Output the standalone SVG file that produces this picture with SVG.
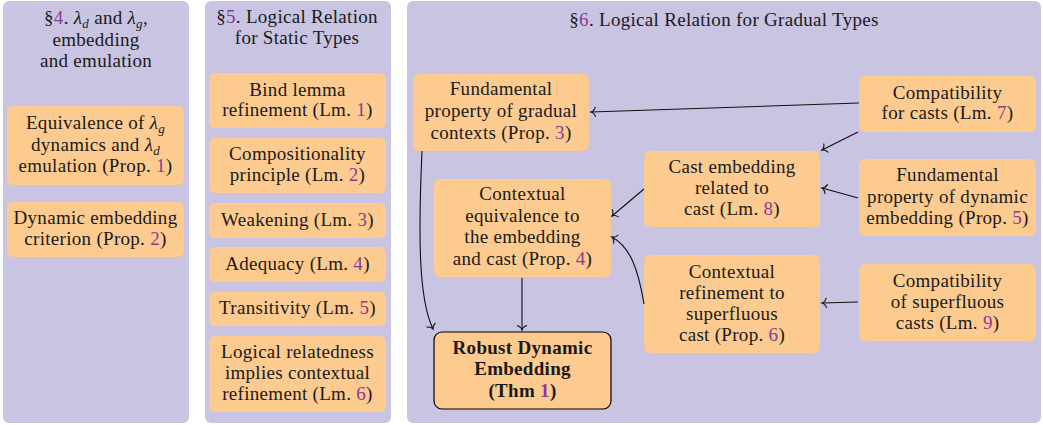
<svg xmlns="http://www.w3.org/2000/svg" width="1043" height="425" viewBox="0 0 1043 425">
  <style>
    .panel { fill: #c8c4e2; }
    .node { fill: #fdcb8f; }
    .main { fill: #fdcb8f; stroke: #000; stroke-width: 1.2; }
    text { font-family: "Liberation Serif", "Times New Roman", serif; font-size: 19px; letter-spacing: 0.3px; fill: #1a1a1a; text-anchor: middle; }
    .b { font-weight: bold; }
    .n { fill: #8a3a94; }
    .m { font-style: italic; }
    .edge { fill: none; stroke: #111; stroke-width: 1.1; }
  </style>
  <defs>
    <marker id="to" viewBox="-6 -6 8 12" markerWidth="8" markerHeight="12" refX="0" refY="0" orient="auto" markerUnits="userSpaceOnUse">
      <path d="M-4.5,-5 C-3.5,-2 -1.5,-0.4 0,0 C-1.5,0.4 -3.5,2 -4.5,5" fill="none" stroke="#111" stroke-width="1.1"/>
    </marker>
  </defs>

  <!-- section panels -->
  <g id="panel-s4">
    <rect class="panel" x="3" y="1" width="186" height="422" rx="6"/>
    <text x="96" y="24">§<tspan class="n">4</tspan>. <tspan class="m">λ</tspan><tspan class="m" font-size="13" dy="4">d</tspan><tspan dy="-4"> and </tspan><tspan class="m">λ</tspan><tspan class="m" font-size="13" dy="4">g</tspan><tspan dy="-4">,</tspan></text>
    <text x="96" y="46">embedding</text>
    <text x="96" y="67">and emulation</text>
  </g>
  <g id="panel-s5">
    <rect class="panel" x="205" y="1" width="186" height="422" rx="6"/>
    <text x="297" y="23">§<tspan class="n">5</tspan>. Logical Relation</text>
    <text x="297" y="44">for Static Types</text>
  </g>
  <g id="panel-s6">
    <rect class="panel" x="407" y="1" width="634" height="422" rx="6"/>
    <text x="724" y="26">§<tspan class="n">6</tspan>. Logical Relation for Gradual Types</text>
  </g>

  <!-- §4 nodes -->
  <g id="prop1">
    <rect class="node" x="7" y="106" width="177" height="79" rx="6"/>
    <text x="95.5" y="129">Equivalence of <tspan class="m">λ</tspan><tspan class="m" font-size="13" dy="4">g</tspan></text>
    <text x="95.5" y="150.5">dynamics and <tspan class="m">λ</tspan><tspan class="m" font-size="13" dy="4">d</tspan></text>
    <text x="95.5" y="172">emulation (Prop. <tspan class="n">1</tspan>)</text>
  </g>
  <g id="prop2">
    <rect class="node" x="7" y="202" width="177" height="55" rx="6"/>
    <text x="95.5" y="224">Dynamic embedding</text>
    <text x="95.5" y="245">criterion (Prop. <tspan class="n">2</tspan>)</text>
  </g>

  <!-- §5 nodes -->
  <g id="lm1">
    <rect class="node" x="209" y="73" width="177" height="55" rx="6"/>
    <text x="297.5" y="96">Bind lemma</text>
    <text x="297.5" y="116">refinement (Lm. <tspan class="n">1</tspan>)</text>
  </g>
  <g id="lm2">
    <rect class="node" x="209" y="138" width="177" height="55" rx="6"/>
    <text x="297.5" y="160">Compositionality</text>
    <text x="297.5" y="181">principle (Lm. <tspan class="n">2</tspan>)</text>
  </g>
  <g id="lm3">
    <rect class="node" x="209" y="203" width="177" height="35" rx="6"/>
    <text x="297.5" y="226">Weakening (Lm. <tspan class="n">3</tspan>)</text>
  </g>
  <g id="lm4">
    <rect class="node" x="209" y="247" width="177" height="35" rx="6"/>
    <text x="297.5" y="270">Adequacy (Lm. <tspan class="n">4</tspan>)</text>
  </g>
  <g id="lm5">
    <rect class="node" x="209" y="292" width="177" height="34" rx="6"/>
    <text x="297.5" y="314">Transitivity (Lm. <tspan class="n">5</tspan>)</text>
  </g>
  <g id="lm6">
    <rect class="node" x="209" y="336" width="177" height="76" rx="6"/>
    <text x="297.5" y="358">Logical relatedness</text>
    <text x="297.5" y="379">implies contextual</text>
    <text x="297.5" y="400">refinement (Lm. <tspan class="n">6</tspan>)</text>
  </g>

  <!-- §6 nodes -->
  <g id="prop3">
    <rect class="node" x="413" y="74" width="176" height="77" rx="6"/>
    <text x="501" y="95">Fundamental</text>
    <text x="501" y="117">property of gradual</text>
    <text x="501" y="139">contexts (Prop. <tspan class="n">3</tspan>)</text>
  </g>
  <g id="prop4">
    <rect class="node" x="434" y="179" width="177" height="98" rx="6"/>
    <text x="522.5" y="200">Contextual</text>
    <text x="522.5" y="222">equivalence to</text>
    <text x="522.5" y="243">the embedding</text>
    <text x="522.5" y="265">and cast (Prop. <tspan class="n">4</tspan>)</text>
  </g>
  <g id="thm1">
    <rect class="main" x="434" y="332" width="177" height="77" rx="8"/>
    <text class="b" x="522.5" y="354">Robust Dynamic</text>
    <text class="b" x="522.5" y="375">Embedding</text>
    <text class="b" x="522.5" y="397">(Thm <tspan class="n">1</tspan>)</text>
  </g>
  <g id="lm8">
    <rect class="node" x="644" y="151" width="176" height="76" rx="6"/>
    <text x="732" y="173">Cast embedding</text>
    <text x="732" y="194">related to</text>
    <text x="732" y="215">cast (Lm. <tspan class="n">8</tspan>)</text>
  </g>
  <g id="prop6">
    <rect class="node" x="644" y="255" width="176" height="98" rx="6"/>
    <text x="732" y="278">Contextual</text>
    <text x="732" y="299">refinement to</text>
    <text x="732" y="320">superfluous</text>
    <text x="732" y="341">cast (Prop. <tspan class="n">6</tspan>)</text>
  </g>
  <g id="lm7">
    <rect class="node" x="859" y="76" width="177" height="56" rx="6"/>
    <text x="947.5" y="99">Compatibility</text>
    <text x="947.5" y="119">for casts (Lm. <tspan class="n">7</tspan>)</text>
  </g>
  <g id="prop5">
    <rect class="node" x="859" y="159" width="177" height="77" rx="6"/>
    <text x="947.5" y="181">Fundamental</text>
    <text x="947.5" y="203">property of dynamic</text>
    <text x="947.5" y="224">embedding (Prop. <tspan class="n">5</tspan>)</text>
  </g>
  <g id="lm9">
    <rect class="node" x="859" y="264" width="177" height="77" rx="6"/>
    <text x="947.5" y="287">Compatibility</text>
    <text x="947.5" y="308">of superfluous</text>
    <text x="947.5" y="329">casts (Lm. <tspan class="n">9</tspan>)</text>
  </g>

  <!-- dependencies -->
  <g id="connectors">
    <path class="edge" marker-end="url(#to)" d="M859,103 L591,112"/>
    <path class="edge" marker-end="url(#to)" d="M858,132 L822,150"/>
    <path class="edge" marker-end="url(#to)" d="M858,198 L822,188"/>
    <path class="edge" marker-end="url(#to)" d="M644,189 L612,216"/>
    <path class="edge" marker-end="url(#to)" d="M644,304 C638,268 630,247 612,237"/>
    <path class="edge" marker-end="url(#to)" d="M858,302 L822,303"/>
    <path class="edge" marker-end="url(#to)" d="M522,278 L522,330"/>
    <path class="edge" marker-end="url(#to)" d="M422,151 C418,240 419,300 433,329"/>
  </g>
</svg>
